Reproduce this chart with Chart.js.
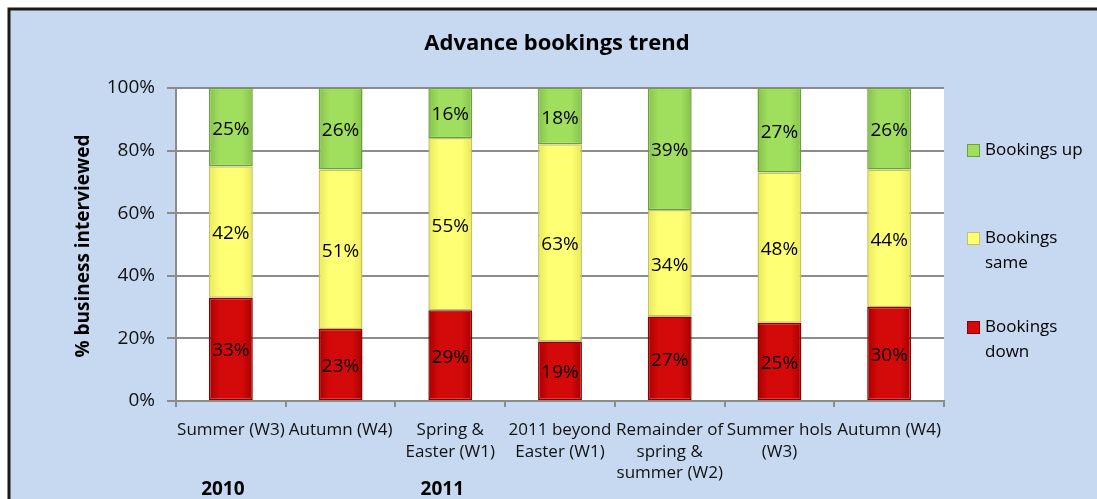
<!DOCTYPE html>
<html>
<head>
<meta charset="utf-8">
<title>Advance bookings trend</title>
<script src="https://cdn.jsdelivr.net/npm/chart.js@4.4.1/dist/chart.umd.min.js"></script>
<style>
  html, body { margin: 0; padding: 0; background: #fff; }
  #wrap { width: 1097px; height: 499px; }
</style>
</head>
<body>
<div id="wrap"><canvas id="chart"></canvas></div>
<script>
// data
const categories = [
  "Summer (W3)",
  "Autumn (W4)",
  ["Spring &", "Easter (W1)"],
  ["2011 beyond", "Easter (W1)"],
  ["Remainder of", "spring &", "summer (W2)"],
  ["Summer hols", "(W3)"],
  "Autumn (W4)"
];
const bookingsDown = [33, 23, 29, 19, 27, 25, 30];
const bookingsSame = [42, 51, 55, 63, 34, 48, 44];
const bookingsUp = [25, 26, 16, 18, 39, 27, 26];
const yTicks = [0, 20, 40, 60, 80, 100];
const yearLabels = ["2010", "", "2011", "", "", "", ""];
const legendItems = [
  { lines: ["Bookings up"], dataset: 2 },
  { lines: ["Bookings", "same"], dataset: 1 },
  { lines: ["Bookings", "down"], dataset: 0 }
];

const FONT = "'Open Sans', 'Noto Sans', sans-serif";
const BG = "#c6d9f0";

// edge/center colours for the glossy bar look
const palette = [
  { edge: "#a80000", mid: "#d40a0a", border: "#8c0000" },
  { edge: "#e8e85a", mid: "#ffff73", border: "#c4c45a" },
  { edge: "#86c24c", mid: "#a0de5e", border: "#6f9e3d" }
];

function barFill(i) {
  return function (c) {
    const chart = c.chart;
    if (!chart.chartArea || !chart.scales.x) return palette[i].mid;
    const x = chart.scales.x.getPixelForValue(c.dataIndex);
    const g = chart.ctx.createLinearGradient(x - 22, 0, x + 22, 0);
    g.addColorStop(0, palette[i].edge);
    g.addColorStop(0.25, palette[i].mid);
    g.addColorStop(0.75, palette[i].mid);
    g.addColorStop(1, palette[i].edge);
    return g;
  };
}

const decorations = {
  id: "decorations",
  beforeDraw(chart) {
    const ctx = chart.ctx;
    ctx.save();
    ctx.fillStyle = "#fff";
    ctx.fillRect(0, 0, chart.width, chart.height);
    ctx.fillStyle = BG;
    ctx.fillRect(9, 9, chart.width, chart.height);
    ctx.strokeStyle = "#1a1a1a";
    ctx.lineWidth = 3;
    ctx.beginPath();
    ctx.moveTo(9, chart.height + 5);
    ctx.lineTo(9, 9);
    ctx.lineTo(chart.width + 5, 9);
    ctx.stroke();
    const a = chart.chartArea;
    ctx.fillStyle = "#fff";
    ctx.fillRect(a.left, a.top, a.right - a.left, a.bottom - a.top);
    ctx.restore();
  },
  afterDraw(chart) {
    const ctx = chart.ctx;
    const a = chart.chartArea;
    ctx.save();
    ctx.fillStyle = "#000";
    // title
    ctx.font = "bold 22px " + FONT;
    ctx.textAlign = "center";
    ctx.textBaseline = "middle";
    ctx.fillText("Advance bookings trend", 557, 44);
    // y axis title
    ctx.save();
    ctx.translate(84, 246);
    ctx.rotate(-Math.PI / 2);
    ctx.font = "bold 19px " + FONT;
    ctx.fillText("% business interviewed", 0, 0);
    ctx.restore();
    // year labels under the categories
    ctx.font = "bold 19px " + FONT;
    const xs = chart.scales.x;
    yearLabels.forEach((t, i) => {
      if (t) ctx.fillText(t, xs.getPixelForValue(i) - 8, 490);
    });
    // legend
    ctx.textAlign = "left";
    ctx.font = "17px " + FONT;
    const rows = [150, 238, 327];
    legendItems.forEach((it, k) => {
      const y = rows[k];
      const p = palette[it.dataset];
      ctx.fillStyle = p.mid;
      ctx.fillRect(967, y - 6, 13, 13);
      ctx.strokeStyle = p.border;
      ctx.lineWidth = 1;
      ctx.strokeRect(967.5, y - 5.5, 12, 12);
      ctx.fillStyle = "#000";
      it.lines.forEach((ln, j) => ctx.fillText(ln, 985, y + j * 25));
    });
    ctx.restore();
  },
  afterDatasetsDraw(chart) {
    const ctx = chart.ctx;
    ctx.save();
    ctx.font = "19px " + FONT;
    ctx.fillStyle = "#000";
    ctx.textAlign = "center";
    ctx.textBaseline = "middle";
    chart.data.datasets.forEach((ds, di) => {
      chart.getDatasetMeta(di).data.forEach((bar, i) => {
        const mid = (bar.y + bar.base) / 2;
        ctx.fillText(ds.data[i] + "%", bar.x, mid + 2);
      });
    });
    ctx.restore();
  }
};

new Chart(document.getElementById("chart"), {
  type: "bar",
  plugins: [decorations],
  data: {
    labels: categories,
    datasets: [
      { label: "Bookings down", data: bookingsDown, backgroundColor: barFill(0), borderColor: palette[0].border },
      { label: "Bookings same", data: bookingsSame, backgroundColor: barFill(1), borderColor: palette[1].border },
      { label: "Bookings up", data: bookingsUp, backgroundColor: barFill(2), borderColor: palette[2].border }
    ]
  },
  options: {
    responsive: true,
    maintainAspectRatio: false,
    animation: false,
    devicePixelRatio: 1,
    layout: { padding: { left: 0, right: 153, top: 88, bottom: 0 } },
    datasets: {
      bar: { barPercentage: 0.4, categoryPercentage: 1.0, borderWidth: 1.5, borderSkipped: false }
    },
    plugins: {
      legend: { display: false },
      title: { display: false },
      tooltip: { enabled: false }
    },
    scales: {
      x: {
        stacked: true,
        offset: true,
        afterFit: (s) => { s.height = 98; },
        grid: { offset: true, drawOnChartArea: false, drawTicks: true, tickLength: 6, color: "#8c8c8c", lineWidth: 2 },
        border: { color: "#8c8c8c", width: 2 },
        ticks: { color: "#111", font: { family: FONT, size: 17, lineHeight: 1.25 }, padding: 13, maxRotation: 0, autoSkip: false }
      },
      y: {
        stacked: true,
        min: 0,
        max: 100,
        afterFit: (s) => { s.width = 176; },
        afterBuildTicks: (s) => { s.ticks = yTicks.map((v) => ({ value: v })); },
        grid: { color: "#8c8c8c", lineWidth: 2, tickLength: 9 },
        border: { color: "#8c8c8c", width: 2 },
        ticks: { color: "#111", font: { family: FONT, size: 19 }, padding: 12, callback: (v) => v + "%" }
      }
    }
  }
});
</script>
</body>
</html>
